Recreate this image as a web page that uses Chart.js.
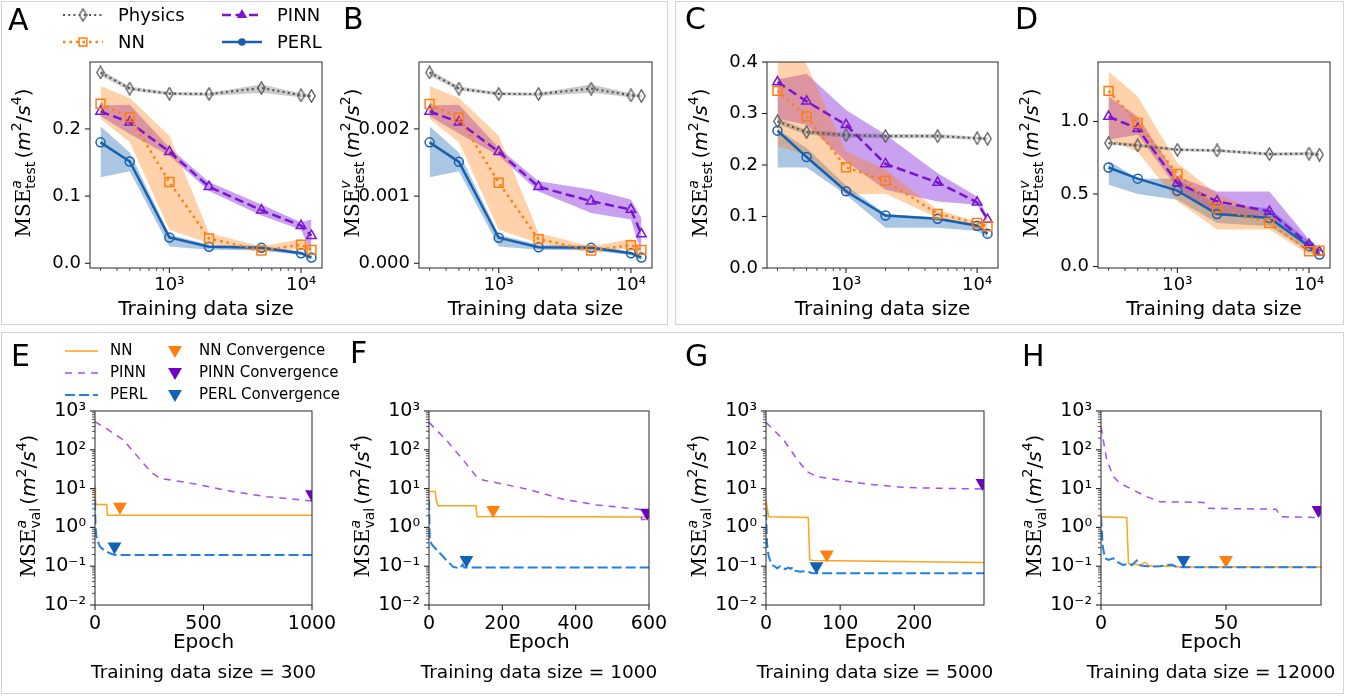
<!DOCTYPE html>
<html>
<head>
<meta charset="utf-8">
<script src="https://cdn.jsdelivr.net/npm/chart.js@4.4.0/dist/chart.umd.min.js"></script>
<style>
  body { margin: 0; background: #fff; width: 1348px; height: 696px; overflow: hidden; position: relative; }
  canvas { position: absolute; left: 0; top: 0; }
  .box { position: absolute; border: 1.5px solid #d3d3d3; box-sizing: border-box; }
</style>
</head>
<body>
<div class="box" style="left:1px;top:1px;width:667px;height:324px"></div>
<div class="box" style="left:675px;top:1px;width:669px;height:324px"></div>
<div class="box" style="left:1px;top:332px;width:1343px;height:362px"></div>
<canvas id="cA" width="1348" height="696"></canvas>
<canvas id="cB" width="1348" height="696"></canvas>
<canvas id="cC" width="1348" height="696"></canvas>
<canvas id="cD" width="1348" height="696"></canvas>
<canvas id="cE" width="1348" height="696"></canvas>
<canvas id="cF" width="1348" height="696"></canvas>
<canvas id="cG" width="1348" height="696"></canvas>
<canvas id="cH" width="1348" height="696"></canvas>
<script>
// ---- test error vs training data size (mean, lower, upper) ----
const sizes = [300, 500, 1000, 2000, 5000, 10000, 12000];

const A_phys    = [0.284, 0.260, 0.2525, 0.252, 0.261, 0.250, 0.249];
const A_phys_lo = [0.279, 0.257, 0.250, 0.249, 0.254, 0.247, 0.247];
const A_phys_hi = [0.288, 0.263, 0.255, 0.254, 0.266, 0.253, 0.251];
const A_nn      = [0.2375, 0.2175, 0.121, 0.037, 0.019, 0.0275, 0.020];
const A_nn_lo   = [0.215, 0.180, 0.050, 0.030, 0.016, 0.022, 0.015];
const A_nn_hi   = [0.264, 0.246, 0.190, 0.045, 0.025, 0.036, 0.024];
const A_pinn    = [0.226, 0.210, 0.166, 0.114, 0.079, 0.056, 0.041];
const A_pinn_lo = [0.219, 0.1925, 0.160, 0.1075, 0.071, 0.050, 0.015];
const A_pinn_hi = [0.235, 0.236, 0.1725, 0.121, 0.0875, 0.061, 0.065];
const A_perl    = [0.180, 0.1515, 0.0385, 0.0245, 0.023, 0.015, 0.0085];
const A_perl_lo = [0.128, 0.137, 0.025, 0.020, 0.019, 0.0125, 0.005];
const A_perl_hi = [0.204, 0.165, 0.0425, 0.0275, 0.026, 0.0175, 0.0125];

const B_phys    = [0.00284, 0.00260, 0.00252, 0.00252, 0.00260, 0.00250, 0.00249];
const B_phys_lo = [0.00279, 0.00257, 0.00250, 0.00249, 0.00254, 0.00247, 0.00247];
const B_phys_hi = [0.00288, 0.00263, 0.00255, 0.00254, 0.00266, 0.00253, 0.00251];
const B_nn      = [0.00237, 0.00217, 0.00120, 0.00036, 0.00019, 0.00027, 0.00020];
const B_nn_lo   = [0.00215, 0.00180, 0.00050, 0.00030, 0.00016, 0.00022, 0.00015];
const B_nn_hi   = [0.00264, 0.00246, 0.00190, 0.00045, 0.00025, 0.00036, 0.00024];
const B_pinn    = [0.00226, 0.00210, 0.00166, 0.00114, 0.000925, 0.00080, 0.000435];
const B_pinn_lo = [0.00219, 0.00193, 0.00160, 0.00107, 0.00075, 0.00065, 0.00015];
const B_pinn_hi = [0.00235, 0.00236, 0.00172, 0.00122, 0.00110, 0.00095, 0.000675];
const B_perl    = [0.00180, 0.00151, 0.00038, 0.00024, 0.00023, 0.00015, 0.000085];
const B_perl_lo = [0.00128, 0.00137, 0.00025, 0.00020, 0.00019, 0.000125, 0.00005];
const B_perl_hi = [0.00204, 0.00165, 0.000425, 0.000275, 0.00026, 0.000175, 0.000125];

const C_phys    = [0.285, 0.264, 0.258, 0.256, 0.256, 0.252, 0.251];
const C_phys_lo = [0.279, 0.259, 0.253, 0.252, 0.252, 0.249, 0.248];
const C_phys_hi = [0.291, 0.268, 0.262, 0.260, 0.260, 0.255, 0.254];
const C_nn      = [0.344, 0.2945, 0.1955, 0.1696, 0.105, 0.0874, 0.081];
const C_nn_lo   = [0.236, 0.220, 0.142, 0.144, 0.097, 0.081, 0.074];
const C_nn_hi   = [0.450, 0.395, 0.2265, 0.191, 0.113, 0.090, 0.087];
const C_pinn    = [0.361, 0.3236, 0.278, 0.202, 0.166, 0.1275, 0.094];
const C_pinn_lo = [0.290, 0.278, 0.207, 0.152, 0.129, 0.123, 0.090];
const C_pinn_hi = [0.366, 0.377, 0.307, 0.259, 0.184, 0.139, 0.100];
const C_perl    = [0.2667, 0.2155, 0.149, 0.102, 0.0958, 0.0822, 0.0667];
const C_perl_lo = [0.195, 0.195, 0.142, 0.078, 0.078, 0.072, 0.060];
const C_perl_hi = [0.269, 0.233, 0.160, 0.105, 0.098, 0.085, 0.070];

const D_phys    = [0.851, 0.835, 0.805, 0.800, 0.775, 0.778, 0.771];
const D_phys_lo = [0.839, 0.824, 0.794, 0.789, 0.764, 0.767, 0.760];
const D_phys_hi = [0.863, 0.846, 0.816, 0.811, 0.786, 0.789, 0.782];
const D_nn      = [1.211, 0.989, 0.638, 0.404, 0.300, 0.105, 0.110];
const D_nn_lo   = [0.880, 0.790, 0.450, 0.255, 0.255, 0.083, 0.083];
const D_nn_hi   = [1.344, 1.172, 0.713, 0.500, 0.350, 0.128, 0.128];
const D_pinn    = [1.034, 0.950, 0.576, 0.450, 0.380, 0.151, 0.100];
const D_pinn_lo = [0.874, 0.908, 0.540, 0.358, 0.335, 0.128, 0.087];
const D_pinn_hi = [1.172, 1.034, 0.620, 0.518, 0.518, 0.186, 0.128];
const D_perl    = [0.683, 0.606, 0.523, 0.362, 0.335, 0.140, 0.083];
const D_perl_lo = [0.564, 0.500, 0.461, 0.300, 0.278, 0.105, 0.064];
const D_perl_hi = [0.729, 0.606, 0.606, 0.427, 0.404, 0.174, 0.105];

// ---- validation curves per epoch ----
const E_nn_x   = [0, 2, 5, 54, 57, 1000];
const E_nn_y   = [11, 5, 3.9, 3.9, 2.05, 2.05];
const E_pinn_x = [0, 60, 131, 180, 223, 260, 300, 400, 485, 638, 792, 1000];
const E_pinn_y = [530, 330, 179, 85, 45, 26, 18.4, 15, 12.4, 8.3, 6.2, 4.8];
const E_perl_x = [0, 2, 6, 12, 23, 40, 69, 92, 1000];
const E_perl_y = [5, 1.2, 0.6, 0.45, 0.32, 0.26, 0.215, 0.195, 0.195];
const E_conv_x = [115, 1000, 90];      // NN, PINN, PERL
const E_conv_y = [3.4, 7.2, 0.32];
const E_ticks  = [0, 500, 1000];

const F_nn_x   = [0, 17, 20, 24, 128, 131, 600];
const F_nn_y   = [8.4, 8.4, 5, 3.6, 3.6, 1.9, 1.85];
const F_pinn_x = [0, 47, 93, 129, 147, 202, 275, 366, 457, 548, 576, 580, 600];
const F_pinn_y = [510, 179, 55, 20.5, 16.6, 13.1, 9.3, 5.3, 3.8, 3.1, 2.9, 1.6, 1.6];
const F_perl_x = [0, 2, 8, 20, 47, 66, 84, 92, 96, 600];
const F_perl_y = [5, 0.47, 0.36, 0.27, 0.145, 0.096, 0.088, 0.11, 0.092, 0.092];
const F_conv_x = [175, 595, 102];
const F_conv_y = [2.8, 2.4, 0.145];
const F_ticks  = [0, 200, 400, 600];

const G_nn_x   = [0, 3.5, 57, 59, 64, 294];
const G_nn_y   = [5.1, 1.87, 1.8, 0.145, 0.14, 0.125];
const G_pinn_x = [0, 24, 41, 55, 68, 104, 140, 184, 229, 294];
const G_pinn_y = [510, 179, 60, 27.5, 20.5, 16, 12.9, 10.8, 10.2, 9.8];
const G_perl_x = [0, 1.3, 3.6, 8, 12.5, 15, 19, 22, 26, 30, 33, 36, 39, 46, 55, 62, 68, 294];
const G_perl_y = [2.8, 0.39, 0.18, 0.107, 0.097, 0.088, 0.1, 0.09, 0.084, 0.092, 0.086, 0.094, 0.077, 0.072, 0.075, 0.066, 0.066, 0.066];
const G_conv_x = [82, 292, 68];
const G_conv_y = [0.2, 14, 0.1];
const G_ticks  = [0, 100, 200];

const H_nn_x   = [0, 10.3, 11, 13, 15.6, 17.6, 19, 21, 27.6, 31.6, 88];
const H_nn_y   = [1.87, 1.8, 0.117, 0.114, 0.107, 0.126, 0.104, 0.1, 0.1, 0.095, 0.095];
const H_pinn_x = [0, 0.9, 2.3, 4.9, 7.6, 12.9, 18.3, 23.6, 41, 43, 70, 72, 88];
const H_pinn_y = [395, 179, 55, 20.5, 13.7, 9.2, 6.2, 4.6, 4.4, 3.1, 2.95, 1.87, 1.8];
const H_perl_x = [0, 0.7, 1.6, 2.9, 4.9, 6.9, 8.9, 11, 12.3, 14.3, 15.6, 19.6, 23.6, 28.3, 30.3, 34, 88];
const H_perl_y = [1.87, 0.32, 0.16, 0.145, 0.16, 0.126, 0.107, 0.117, 0.105, 0.14, 0.105, 0.098, 0.1, 0.11, 0.095, 0.094, 0.094];
const H_conv_x = [50, 87, 33];
const H_conv_y = [0.145, 2.8, 0.145];
const H_ticks  = [0, 50];

const W = 1348, H = 696;
const YW = 60, XH = 40;

// thin hollow diamond for the physics markers
const diamond = document.createElement('canvas');
diamond.width = 9; diamond.height = 14;
(function () {
  const g = diamond.getContext('2d');
  g.strokeStyle = '#5c5c5c'; g.lineWidth = 1.3;
  g.beginPath(); g.moveTo(4.5, 0.8); g.lineTo(8.2, 7); g.lineTo(4.5, 13.2); g.lineTo(0.8, 7); g.closePath();
  g.stroke();
})();

const ST = {
  phys: { color: '#555555', band: 'rgba(90,90,90,0.32)', dash: [2, 3.2], width: 2.2, marker: diamond, radius: 5 },
  nn:   { color: '#ff7f0e', band: 'rgba(255,127,14,0.35)', dash: [2.5, 4], width: 2.5, marker: 'rect', radius: 6.3 },
  pinn: { color: '#7a14d2', band: 'rgba(123,20,212,0.40)', dash: [9, 4.5], width: 2.5, marker: 'triangle', radius: 5.5 },
  perl: { color: '#1660b2', band: 'rgba(22,96,178,0.36)', dash: [], width: 2.5, marker: 'circle', radius: 4.5 },
};
const CURVE = {
  nn:   { color: '#ffa31a', dash: [], width: 1.5, conv: '#ff7f0e' },
  pinn: { color: '#a34ff5', dash: [7, 6], width: 1.5, conv: '#7000c4' },
  perl: { color: '#1f80e6', dash: [10, 4], width: 2, conv: '#1062b4' },
};

const SUP = { '-': '\u207b', '0': '\u2070', '1': '\u00b9', '2': '\u00b2', '3': '\u00b3', '4': '\u2074', '5': '\u2075' };
function pow10Label(v) {
  const e = Math.log10(v);
  if (Math.abs(e - Math.round(e)) > 1e-6) return '';
  return '10' + String(Math.round(e)).split('').map(c => SUP[c]).join('');
}

function drawYTitle(ctx, bx, cy, sup, sub, pw) {
  ctx.save();
  ctx.translate(bx, cy);
  ctx.rotate(-Math.PI / 2);
  ctx.fillStyle = '#000';
  ctx.textBaseline = 'alphabetic';
  ctx.textAlign = 'left';
  const fMse = '20px "DejaVu Serif"', fSm = '14px "DejaVu Sans"', fSmIt = 'italic 14px "DejaVu Sans"';
  const fU = '20px "DejaVu Sans"', fUIt = 'italic 20px "DejaVu Sans"';
  const runs = [
    [{ t: 'MSE', f: fMse, dy: 0 }],
    [{ t: sup, f: fSmIt, dy: -9 }, { t: sub, f: fSm, dy: 5 }],
    [{ t: ' ', f: '10px "DejaVu Sans"', dy: 0 }],
    [{ t: '(', f: fU, dy: 0 }], [{ t: 'm', f: fUIt, dy: 0 }], [{ t: '2', f: fSm, dy: -9 }],
    [{ t: '/', f: fU, dy: 0 }], [{ t: 's', f: fUIt, dy: 0 }], [{ t: pw, f: fSm, dy: -9 }],
    [{ t: ')', f: fU, dy: 0 }],
  ];
  const widths = runs.map(r => Math.max(...r.map(p => { ctx.font = p.f; return ctx.measureText(p.t).width; })));
  let x = -widths.reduce((a, b) => a + b, 0) / 2;
  runs.forEach((r, i) => {
    r.forEach(p => { ctx.font = p.f; ctx.fillText(p.t, x, p.dy); });
    x += widths[i];
  });
  ctx.restore();
}

function text(ctx, s, x, y, font, align) {
  ctx.font = font;
  ctx.fillStyle = '#000';
  ctx.textAlign = align || 'center';
  ctx.textBaseline = 'middle';
  ctx.fillText(s, x, y);
}

function tickMark(ctx, x1, y1, x2, y2, w) {
  ctx.lineWidth = w;
  ctx.beginPath(); ctx.moveTo(x1, y1); ctx.lineTo(x2, y2); ctx.stroke();
}

function logMinors(min, max) {
  const out = [];
  for (let e = Math.floor(Math.log10(min)); e <= Math.ceil(Math.log10(max)); e++) {
    for (let k = 1; k <= 9; k++) {
      const v = k * Math.pow(10, e);
      if (v >= min * 0.9999 && v <= max * 1.0001) out.push({ v, major: k === 1 });
    }
  }
  return out;
}

function legendSample(ctx, x, y, len, st, marker) {
  ctx.save();
  ctx.strokeStyle = st.color;
  ctx.lineWidth = st.width;
  ctx.setLineDash(st.dash || []);
  ctx.beginPath(); ctx.moveTo(x, y); ctx.lineTo(x + len, y); ctx.stroke();
  ctx.setLineDash([]);
  if (marker) {
    ctx.strokeStyle = st.color;
    ctx.fillStyle = marker.fill || 'rgba(0,0,0,0)';
    ctx.lineWidth = 1.5;
    Chart.helpers.drawPoint(ctx, { pointStyle: marker.style, radius: marker.radius, rotation: 0, borderWidth: 1.5 }, x + len / 2, y);
  }
  ctx.restore();
}

function framePlugin(cfg) {
  return {
    id: 'frame' + cfg.letter,
    afterDraw(chart) {
      const ctx = chart.ctx, a = chart.chartArea;
      const xs = chart.scales.x, ys = chart.scales.y;
      ctx.save();
      ctx.strokeStyle = '#222';
      // x tick marks
      const xt = cfg.xLog ? logMinors(xs.min, xs.max) : xs.ticks.map(t => ({ v: t.value, major: true }));
      xt.forEach(t => {
        const px = xs.getPixelForValue(t.v);
        tickMark(ctx, px, a.bottom, px, a.bottom + (t.major ? 5 : 3), t.major ? 1.1 : 0.8);
      });
      // y tick marks
      const yt = cfg.yLog ? logMinors(ys.min, ys.max) : ys.ticks.map(t => ({ v: t.value, major: true }));
      yt.forEach(t => {
        const py = ys.getPixelForValue(t.v);
        tickMark(ctx, a.left, py, a.left - (t.major ? 5 : 3), py, t.major ? 1.1 : 0.8);
      });
      ctx.strokeStyle = '#3a3a3a';
      ctx.lineWidth = 1.1;
      ctx.strokeRect(a.left, a.top, a.right - a.left, a.bottom - a.top);
      ctx.restore();

      ctx.save();
      ctx.fillStyle = '#000';
      ctx.font = '30px "DejaVu Sans"';
      ctx.textAlign = 'left';
      ctx.textBaseline = 'alphabetic';
      ctx.fillText(cfg.letter, cfg.letterPos[0], cfg.letterPos[1]);
      drawYTitle(ctx, a.left - 60, (a.top + a.bottom) / 2 - 2, cfg.sup, cfg.sub, cfg.pw);
      const cx = (a.left + a.right) / 2;
      cfg.xTitles.forEach(tt => text(ctx, tt.s, cx, tt.y, tt.font));
      if (cfg.legend) cfg.legend(ctx);
      ctx.restore();
    }
  };
}

function topLegend(ctx) {
  const rows = [
    { x: 63, y: 15, st: ST.phys, label: 'Physics', m: { style: diamond, radius: 5 } },
    { x: 63, y: 42, st: ST.nn, label: 'NN', m: { style: 'rect', radius: 5.5 } },
    { x: 222, y: 15, st: ST.pinn, label: 'PINN', m: { style: 'triangle', radius: 4.5, fill: ST.pinn.color } },
    { x: 222, y: 42, st: ST.perl, label: 'PERL', m: { style: 'circle', radius: 3, fill: ST.perl.color } },
  ];
  rows.forEach(r => {
    legendSample(ctx, r.x, r.y, 40, r.st, r.m);
    text(ctx, r.label, r.x + 55, r.y + 1, '18px "DejaVu Sans"', 'left');
  });
}

function curveLegend(ctx) {
  const rows = [
    { y: 351, st: CURVE.nn, label: 'NN' },
    { y: 373, st: CURVE.pinn, label: 'PINN' },
    { y: 395, st: CURVE.perl, label: 'PERL' },
  ];
  rows.forEach(r => {
    legendSample(ctx, 65, r.y, 33, r.st, null);
    text(ctx, r.label, 110, r.y, '15px "DejaVu Sans"', 'left');
    ctx.save();
    ctx.fillStyle = r.st.conv;
    Chart.helpers.drawPoint(ctx, { pointStyle: 'triangle', radius: 8, rotation: 180, borderWidth: 0 }, 175, r.y - 1);
    ctx.restore();
    text(ctx, r.label + ' Convergence', 199, r.y, '15px "DejaVu Sans"', 'left');
  });
}

function pad(rect) {
  const [l, t, r, b] = rect;
  return { left: l - YW, top: t, right: W - r, bottom: H - b - XH };
}
const fitY = s => { s.width = YW; s.paddingTop = 0; s.paddingBottom = 0; };
const fitX = s => { s.height = XH; s.paddingLeft = 0; s.paddingRight = 0; };
const tickFont = size => ({ family: 'DejaVu Sans', size });

function topChart(p) {
  const pts = arr => sizes.map((s, i) => ({ x: s, y: arr[i] }));
  const ds = [];
  ['phys', 'nn', 'pinn', 'perl'].forEach(k => {
    const st = ST[k], [mean, lo, hi] = p.series[k];
    ds.push({ data: pts(mean), order: 0, borderColor: st.color, borderWidth: st.width, borderDash: st.dash,
      pointStyle: st.marker, pointRadius: st.radius, pointBorderColor: k === 'phys' ? '#5c5c5c' : st.color,
      pointBackgroundColor: 'rgba(0,0,0,0)', pointBorderWidth: 1.5, fill: false });
  });
  ['phys', 'nn', 'pinn', 'perl'].forEach(k => {
    const st = ST[k], [mean, lo, hi] = p.series[k];
    ds.push({ data: pts(lo), order: 1, borderColor: 'rgba(0,0,0,0)', borderWidth: 0, pointRadius: 0, fill: false });
    ds.push({ data: pts(hi), order: 1, borderColor: 'rgba(0,0,0,0)', borderWidth: 0, pointRadius: 0, fill: '-1', backgroundColor: st.band });
  });
  new Chart(document.getElementById(p.id), {
    type: 'line',
    data: { datasets: ds },
    options: {
      responsive: false, animation: false, events: [], devicePixelRatio: 1,
      layout: { padding: pad(p.rect) },
      plugins: { legend: { display: false }, tooltip: { enabled: false } },
      scales: {
        x: {
          type: 'logarithmic', min: 249.5, max: 14430, afterFit: fitX,
          grid: { display: true, drawOnChartArea: false, drawTicks: true, tickLength: 5, color: 'rgba(0,0,0,0)' },
          border: { display: false },
          ticks: { autoSkip: false, maxRotation: 0, minRotation: 0, padding: 2, color: '#000', font: tickFont(18), callback: v => pow10Label(v) }
        },
        y: {
          type: 'linear', min: p.y[0], max: p.y[1], afterFit: fitY,
          grid: { display: true, drawOnChartArea: false, drawTicks: true, tickLength: 5, color: 'rgba(0,0,0,0)' },
          border: { display: false },
          ticks: { stepSize: p.step, includeBounds: false, autoSkip: false, padding: 4, color: '#000', font: tickFont(18),
            callback: v => (Math.abs(v) < 1e-12 ? 0 : v).toFixed(p.dp) }
        }
      }
    },
    plugins: [framePlugin({ letter: p.letter, letterPos: p.letterPos, xLog: true, yLog: false, sup: p.sup, sub: 'test', pw: p.pw,
      xTitles: [{ s: 'Training data size', y: 310, font: '20px "DejaVu Sans"' }], legend: p.legend })]
  });
}

function curveChart(p) {
  const pts = (xs, ys) => xs.map((x, i) => ({ x, y: ys[i] }));
  const ds = [];
  [['nn', 3], ['pinn', 2], ['perl', 1]].forEach(([k, ord]) => {
    const st = CURVE[k];
    ds.push({ data: pts(p.curves[k][0], p.curves[k][1]), order: ord, borderColor: st.color, borderWidth: st.width,
      borderDash: st.dash, pointRadius: 0, fill: false });
  });
  ['nn', 'pinn', 'perl'].forEach((k, i) => {
    ds.push({ data: [{ x: p.conv[0][i], y: p.conv[1][i] }], order: 0, showLine: false, clip: 0,
      pointStyle: 'triangle', rotation: 180, pointRadius: 8, pointBorderWidth: 0,
      pointBackgroundColor: CURVE[k].conv, pointBorderColor: CURVE[k].conv });
  });
  new Chart(document.getElementById(p.id), {
    type: 'line',
    data: { datasets: ds },
    options: {
      responsive: false, animation: false, events: [], devicePixelRatio: 1,
      layout: { padding: pad(p.rect) },
      plugins: { legend: { display: false }, tooltip: { enabled: false } },
      scales: {
        x: {
          type: 'linear', min: 0, max: p.xmax, afterFit: fitX,
          afterBuildTicks: s => { s.ticks = p.xticks.map(v => ({ value: v })); },
          grid: { display: true, drawOnChartArea: false, drawTicks: true, tickLength: 5, color: 'rgba(0,0,0,0)' },
          border: { display: false },
          ticks: { autoSkip: false, maxRotation: 0, padding: 3, color: '#000', font: tickFont(19), callback: v => String(v) }
        },
        y: {
          type: 'logarithmic', min: 0.01, max: 1000, afterFit: fitY,
          grid: { display: true, drawOnChartArea: false, drawTicks: true, tickLength: 5, color: 'rgba(0,0,0,0)' },
          border: { display: false },
          ticks: { autoSkip: false, padding: 4, color: '#000', font: tickFont(19), callback: v => pow10Label(v) }
        }
      }
    },
    plugins: [framePlugin({ letter: p.letter, letterPos: p.letterPos, xLog: false, yLog: true, sup: 'a', sub: 'val', pw: '4',
      xTitles: [{ s: 'Epoch', y: 643, font: '20px "DejaVu Sans"' }, { s: 'Training data size = ' + p.size, y: 673, font: '18.5px "DejaVu Sans"' }],
      legend: p.legend })]
  });
}

topChart({ id: 'cA', letter: 'A', letterPos: [8, 30], rect: [90, 62, 322, 268], y: [-0.007, 0.2996], step: 0.1, dp: 1, sup: 'a', pw: '4',
  series: { phys: [A_phys, A_phys_lo, A_phys_hi], nn: [A_nn, A_nn_lo, A_nn_hi], pinn: [A_pinn, A_pinn_lo, A_pinn_hi], perl: [A_perl, A_perl_lo, A_perl_hi] },
  legend: topLegend });
topChart({ id: 'cB', letter: 'B', letterPos: [343, 29], rect: [419, 62, 652, 268], y: [-0.00007, 0.002996], step: 0.001, dp: 3, sup: 'v', pw: '2',
  series: { phys: [B_phys, B_phys_lo, B_phys_hi], nn: [B_nn, B_nn_lo, B_nn_hi], pinn: [B_pinn, B_pinn_lo, B_pinn_hi], perl: [B_perl, B_perl_lo, B_perl_hi] } });
topChart({ id: 'cC', letter: 'C', letterPos: [685, 29], rect: [767, 62, 998, 268], y: [0, 0.4], step: 0.1, dp: 1, sup: 'a', pw: '4',
  series: { phys: [C_phys, C_phys_lo, C_phys_hi], nn: [C_nn, C_nn_lo, C_nn_hi], pinn: [C_pinn, C_pinn_lo, C_pinn_hi], perl: [C_perl, C_perl_lo, C_perl_hi] } });
topChart({ id: 'cD', letter: 'D', letterPos: [1015, 29], rect: [1098, 62, 1330, 268], y: [-0.01, 1.41], step: 0.5, dp: 1, sup: 'v', pw: '2',
  series: { phys: [D_phys, D_phys_lo, D_phys_hi], nn: [D_nn, D_nn_lo, D_nn_hi], pinn: [D_pinn, D_pinn_lo, D_pinn_hi], perl: [D_perl, D_perl_lo, D_perl_hi] } });

curveChart({ id: 'cE', letter: 'E', letterPos: [11, 366], rect: [95, 411, 312, 605], xmax: 1000, xticks: E_ticks, size: 300,
  curves: { nn: [E_nn_x, E_nn_y], pinn: [E_pinn_x, E_pinn_y], perl: [E_perl_x, E_perl_y] }, conv: [E_conv_x, E_conv_y], legend: curveLegend });
curveChart({ id: 'cF', letter: 'F', letterPos: [350, 363], rect: [429, 411, 649, 605], xmax: 600, xticks: F_ticks, size: 1000,
  curves: { nn: [F_nn_x, F_nn_y], pinn: [F_pinn_x, F_pinn_y], perl: [F_perl_x, F_perl_y] }, conv: [F_conv_x, F_conv_y] });
curveChart({ id: 'cG', letter: 'G', letterPos: [685, 366], rect: [766, 411, 984, 605], xmax: 294, xticks: G_ticks, size: 5000,
  curves: { nn: [G_nn_x, G_nn_y], pinn: [G_pinn_x, G_pinn_y], perl: [G_perl_x, G_perl_y] }, conv: [G_conv_x, G_conv_y] });
curveChart({ id: 'cH', letter: 'H', letterPos: [1022, 366], rect: [1101, 411, 1321, 605], xmax: 88, xticks: H_ticks, size: 12000,
  curves: { nn: [H_nn_x, H_nn_y], pinn: [H_pinn_x, H_pinn_y], perl: [H_perl_x, H_perl_y] }, conv: [H_conv_x, H_conv_y] });
</script>
</body>
</html>
